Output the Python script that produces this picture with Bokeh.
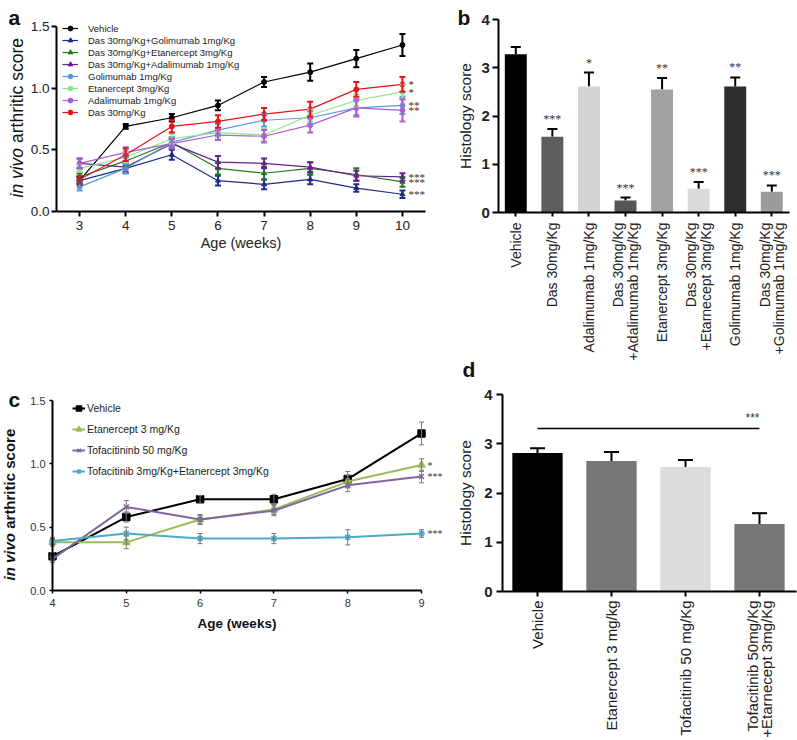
import math
from bokeh.plotting import figure
from bokeh.models import (Range1d, FixedTicker, Whisker, TeeHead, ColumnDataSource,
                          Legend, LegendItem, Label, LabelSet, PrintfTickFormatter)
from bokeh.layouts import column, row
from bokeh.embed import file_html
from bokeh.resources import INLINE

FONT = "Liberation Sans"

# ---------------- Panel a data ----------------
weeks_a = [3, 4, 5, 6, 7, 8, 9, 10]
a_names = ["Vehicle", "Das 30mg/Kg+Golimumab 1mg/Kg", "Das 30mg/Kg+Etanercept 3mg/Kg",
           "Das 30mg/Kg+Adalimumab 1mg/Kg", "Golimumab 1mg/Kg", "Etanercept 3mg/Kg",
           "Adalimumab 1mg/Kg", "Das 30mg/Kg"]
a_vehicle = [0.25, 0.69, 0.76, 0.86, 1.05, 1.13, 1.24, 1.35]
a_das_gol = [0.25, 0.35, 0.46, 0.25, 0.22, 0.26, 0.19, 0.14]
a_das_eta = [0.28, 0.41, 0.56, 0.35, 0.31, 0.35, 0.30, 0.24]
a_das_ada = [0.39, 0.36, 0.55, 0.40, 0.39, 0.36, 0.29, 0.28]
a_gol = [0.20, 0.35, 0.56, 0.66, 0.74, 0.76, 0.84, 0.86]
a_eta = [0.35, 0.44, 0.59, 0.64, 0.62, 0.78, 0.90, 0.97]
a_ada = [0.39, 0.48, 0.55, 0.62, 0.61, 0.70, 0.84, 0.82]
a_das = [0.26, 0.46, 0.69, 0.73, 0.79, 0.83, 0.99, 1.03]
a_err_vehicle = [0.03, 0.02, 0.03, 0.04, 0.04, 0.07, 0.07, 0.09]
a_err_das_gol = [0.03, 0.04, 0.04, 0.04, 0.04, 0.04, 0.03, 0.03]
a_err_das_eta = [0.03, 0.04, 0.04, 0.05, 0.05, 0.05, 0.05, 0.04]
a_err_das_ada = [0.04, 0.04, 0.04, 0.05, 0.04, 0.04, 0.04, 0.03]
a_err_gol = [0.03, 0.04, 0.04, 0.05, 0.05, 0.05, 0.06, 0.07]
a_err_eta = [0.03, 0.04, 0.04, 0.04, 0.05, 0.05, 0.05, 0.06]
a_err_ada = [0.04, 0.04, 0.04, 0.04, 0.05, 0.06, 0.07, 0.09]
a_err_das = [0.03, 0.05, 0.05, 0.05, 0.05, 0.06, 0.06, 0.06]
a_colors = ["#000000", "#1f2a8a", "#217a21", "#6b1f8f", "#5b9bd5", "#8fe38f", "#b35ad8", "#e8141a"]
a_markers = ["circle", "triangle", "triangle", "triangle", "circle", "circle", "circle", "circle"]
a_star_series = [7, 5, 4, 6, 3, 2, 1]
a_star_text = ["*", "*", "**", "**", "***", "***", "***"]
a_yticks = [0.0, 0.5, 1.0, 1.5]

# ---------------- Panel b data ----------------
b_labels = ["Vehicle", "Das 30mg/Kg", "Adalimumab 1mg/Kg", "Das 30mg/Kg\n+Adalimumab 1mg/Kg",
            "Etanercept 3mg/Kg", "Das 30mg/Kg\n+Etarnecept 3mg/Kg", "Golimumab 1mg/Kg",
            "Das 30mg/Kg\n+Golimumab 1mg/Kg"]
b_values = [3.28, 1.57, 2.61, 0.25, 2.55, 0.49, 2.61, 0.43]
b_err = [0.15, 0.16, 0.29, 0.06, 0.24, 0.14, 0.19, 0.13]
b_colors = ["#000000", "#5e5e5e", "#d3d3d3", "#555555", "#a2a2a2", "#dadada", "#2e2e2e", "#9c9c9c"]
b_stars = ["", "***", "*", "***", "**", "***", "**", "***"]
b_yticks = [0, 1, 2, 3, 4]

# ---------------- Panel c data ----------------
weeks_c = [4, 5, 6, 7, 8, 9]
c_names = ["Vehicle", "Etanercept 3 mg/Kg", "Tofacitininb 50 mg/Kg",
           "Tofacitinib 3mg/Kg+Etanercept 3mg/Kg"]
c_vehicle = [0.27, 0.58, 0.72, 0.72, 0.88, 1.24]
c_eta = [0.38, 0.38, 0.56, 0.64, 0.86, 0.99]
c_tofa = [0.25, 0.66, 0.56, 0.63, 0.83, 0.90]
c_combo = [0.39, 0.45, 0.41, 0.41, 0.42, 0.45]
c_err_vehicle = [0.03, 0.04, 0.03, 0.04, 0.06, 0.09]
c_err_eta = [0.03, 0.05, 0.03, 0.04, 0.05, 0.05]
c_err_tofa = [0.03, 0.05, 0.04, 0.04, 0.05, 0.05]
c_err_combo = [0.03, 0.05, 0.04, 0.04, 0.06, 0.03]
c_colors = ["#000000", "#9bbb59", "#8064a2", "#4bacc6"]
c_markers = ["square", "triangle", "x", "asterisk"]
c_star_series = [1, 2, 3]
c_star_text = ["*", "***", "***"]
c_yticks = [0.0, 0.5, 1.0, 1.5]

# ---------------- Panel d data ----------------
d_labels = ["Vehicle", "Etanercept 3 mg/kg", "Tofacitinib 50 mg/Kg",
            "Tofacitinib 50mg/Kg\n+Etarnecept 3mg/Kg"]
d_values = [2.81, 2.65, 2.53, 1.37]
d_err = [0.10, 0.18, 0.14, 0.22]
d_colors = ["#000000", "#777777", "#dcdcdc", "#777777"]
d_sig_x = [0, 3]
d_sig_y = 3.31
d_sig_text = "***"
d_yticks = [0, 1, 2, 3, 4]


def xrange_px(v1, p1, v2, p2, size):
    s = (p2 - p1) / (v2 - v1)
    return Range1d(v1 - p1 / s, v1 + (size - p1) / s)


def yrange_px(v1, p1, v2, p2, size):
    s = (p1 - p2) / (v2 - v1)
    return Range1d(v1 - (size - p1) / s, v1 + p1 / s)


def base_fig(width, height, x_range, y_range, y_axis_at, x_axis_at, xb, yb):
    p = figure(width=width, height=height, x_range=x_range, y_range=y_range,
               output_backend="svg", toolbar_location=None, min_border=0,
               min_border_left=0, min_border_right=0, min_border_top=0, min_border_bottom=0)
    p.title.visible = False
    p.xgrid.visible = False
    p.ygrid.visible = False
    p.outline_line_color = None
    p.yaxis.fixed_location = y_axis_at
    p.xaxis.fixed_location = x_axis_at
    p.xaxis.bounds = xb
    p.yaxis.bounds = yb
    for ax in (p.xaxis, p.yaxis):
        ax.axis_line_width = 2
        ax.axis_line_color = "black"
        ax.major_tick_line_color = "black"
        ax.major_tick_line_width = 2
        ax.major_tick_in = 0
        ax.minor_tick_line_color = None
        ax.major_label_text_font = FONT
        ax.axis_label_text_font = FONT
        ax.axis_label_text_font_style = "normal"
        ax.axis_label_text_color = "#222222"
        ax.major_label_text_color = "#222222"
    return p


def screen_text(p, x, y, txt, size, style="normal", angle=0.0, align="left", color="#111111"):
    p.add_layout(Label(x=x, y=y, x_units="screen", y_units="screen", text=txt, angle=angle,
                       text_font=FONT, text_font_size=size, text_font_style=style,
                       text_color=color, text_baseline="alphabetic", text_align=align))


# ================= Panel a =================
WA, HA = 440, 380
pa = base_fig(WA, HA, xrange_px(2.5, 56, 10.5, 425, WA), yrange_px(0, 211, 1.5, 26, HA),
              2.5, 0, (2.5, 10.5), (0, 1.5))
pa.xaxis.ticker = FixedTicker(ticks=weeks_a)
pa.yaxis.ticker = FixedTicker(ticks=a_yticks)
pa.yaxis.formatter = PrintfTickFormatter(format="%.1f")
pa.xaxis.major_label_text_font_size = "13.5px"
pa.yaxis.major_label_text_font_size = "13.5px"
pa.xaxis.major_tick_out = 5
pa.yaxis.major_tick_out = 5
pa.xaxis.major_label_standoff = 4
pa.yaxis.major_label_standoff = 2
pa.xaxis.axis_label = "Age (weeks)"
pa.xaxis.axis_label_text_font_size = "14.5px"
pa.xaxis.axis_label_standoff = 2

a_series = [a_vehicle, a_das_gol, a_das_eta, a_das_ada, a_gol, a_eta, a_ada, a_das]
a_errs = [a_err_vehicle, a_err_das_gol, a_err_das_eta, a_err_das_ada, a_err_gol, a_err_eta,
          a_err_ada, a_err_das]
a_items = []
for name, vals, errs, col, mk in zip(a_names, a_series, a_errs, a_colors, a_markers):
    src = ColumnDataSource(dict(x=weeks_a, y=vals,
                                lo=[v - e for v, e in zip(vals, errs)],
                                hi=[v + e for v, e in zip(vals, errs)]))
    pa.add_layout(Whisker(base="x", lower="lo", upper="hi", source=src, dimension="height",
                          line_color=col, line_width=2, level="glyph",
                          lower_head=TeeHead(size=6, line_color=col, line_width=2),
                          upper_head=TeeHead(size=6, line_color=col, line_width=2)))
    lr = pa.line("x", "y", source=src, line_color=col, line_width=1.2)
    sr = pa.scatter("x", "y", source=src, marker=mk, size=5, fill_color=col, line_color=col)
    a_items.append(LegendItem(label=name, renderers=[lr, sr]))

pa.add_layout(Legend(items=a_items, location=(62, HA - 118), label_text_font=FONT,
                     label_text_font_size="9.5px", label_text_color="#222222",
                     glyph_width=16, glyph_height=12, label_height=12, spacing=0, padding=0,
                     margin=0, label_standoff=10, border_line_alpha=0,
                     background_fill_alpha=0))

a_star_src = ColumnDataSource(dict(x=[weeks_a[-1]] * len(a_star_series),
                                   y=[a_series[i][-1] for i in a_star_series],
                                   t=a_star_text))
pa.add_layout(LabelSet(x="x", y="y", text="t", source=a_star_src, x_offset=6,
                       text_font=FONT, text_font_size="11px", text_color="#333333",
                       text_baseline="middle", text_align="left"))

screen_text(pa, 8, HA - 17, "a", "21px", "bold")
screen_text(pa, 16, HA - 197, "in vivo", "17.5px", "italic", math.pi / 2)
screen_text(pa, 16, HA - 197 + 54.5, "arthritic score", "17.5px", "normal", math.pi / 2)

# ================= Panel b =================
WB, HB = 357, 380
pb = base_fig(WB, HB, xrange_px(0, 75.3, 7, 331.3, WB), yrange_px(0, 212, 4, 19, HB),
              -0.465, 0, (-0.465, 7.49), (0, 4))
b_x = list(range(len(b_labels)))
b_src = ColumnDataSource(dict(x=b_x, top=b_values, color=b_colors,
                              hi=[v + e for v, e in zip(b_values, b_err)], star=b_stars))
pb.add_layout(Whisker(base="x", lower="top", upper="hi", source=b_src, dimension="height",
                      line_color="black", line_width=2, lower_head=None,
                      upper_head=TeeHead(size=10, line_color="black", line_width=2)))
pb.vbar(x="x", top="top", width=0.6, source=b_src, fill_color="color", line_color=None)
pb.xaxis.ticker = FixedTicker(ticks=b_x)
pb.xaxis.major_label_overrides = {i: lab for i, lab in zip(b_x, b_labels)}
pb.xaxis.major_label_orientation = math.pi / 2
pb.xaxis.major_label_text_font_size = "14px"
pb.xaxis.major_label_text_line_height = 0.9
pb.xaxis.major_tick_out = 4
pb.xaxis.major_label_standoff = 6
pb.yaxis.ticker = FixedTicker(ticks=b_yticks)
pb.yaxis.major_label_text_font_size = "15px"
pb.yaxis.major_label_text_font_style = "bold"
pb.yaxis.major_tick_out = 6
pb.yaxis.major_label_standoff = 3
pb.add_layout(LabelSet(x="x", y="hi", text="star", source=b_src, y_offset=3,
                       text_font=FONT, text_font_size="12px", text_color="#333333",
                       text_baseline="bottom", text_align="center"))
screen_text(pb, 17, HB - 17, "b", "21px", "bold")
screen_text(pb, 25, HB - 115.5, "Histology score", "15.5px", "normal", math.pi / 2, "center",
            "#222222")
screen_text(pb, 22, HB - 369, "d", "21px", "bold")

# ================= Panel c =================
WC, HC = 442, 360
pc = base_fig(WC, HC, xrange_px(4, 52, 9, 421, WC), yrange_px(0, 210, 1.5, 20, HC),
              4, 0, (4, 9), (0, 1.5))
pc.xaxis.ticker = FixedTicker(ticks=weeks_c)
pc.yaxis.ticker = FixedTicker(ticks=c_yticks)
pc.yaxis.formatter = PrintfTickFormatter(format="%.1f")
for ax in (pc.xaxis, pc.yaxis):
    ax.major_label_text_font_size = "11px"
    ax.major_label_text_color = "#333333"
    ax.major_tick_out = 3
    ax.major_tick_line_width = 1.5
pc.xaxis.major_label_standoff = 5
pc.yaxis.major_label_standoff = 4
pc.xaxis.axis_label = "Age (weeks)"
pc.xaxis.axis_label_text_font_size = "13.5px"
pc.xaxis.axis_label_text_font_style = "bold"
pc.xaxis.axis_label_text_color = "#111111"
pc.xaxis.axis_label_standoff = 6

c_series = [c_vehicle, c_eta, c_tofa, c_combo]
c_errs = [c_err_vehicle, c_err_eta, c_err_tofa, c_err_combo]
c_items = []
for name, vals, errs, col, mk in zip(c_names, c_series, c_errs, c_colors, c_markers):
    src = ColumnDataSource(dict(x=weeks_c, y=vals,
                                lo=[v - e for v, e in zip(vals, errs)],
                                hi=[v + e for v, e in zip(vals, errs)]))
    pc.add_layout(Whisker(base="x", lower="lo", upper="hi", source=src, dimension="height",
                          line_color="#777777", line_width=1, level="glyph",
                          lower_head=TeeHead(size=5, line_color="#777777", line_width=1),
                          upper_head=TeeHead(size=5, line_color="#777777", line_width=1)))
    lr = pc.line("x", "y", source=src, line_color=col, line_width=2)
    sr = pc.scatter("x", "y", source=src, marker=mk, size=7, fill_color=col, line_color=col,
                    line_width=1.5)
    c_items.append(LegendItem(label=name, renderers=[lr, sr]))

pc.add_layout(Legend(items=c_items, location=(72, HC - 101), label_text_font=FONT,
                     label_text_font_size="10.5px", label_text_color="#222222",
                     glyph_width=13, glyph_height=20, label_height=20, spacing=1, padding=0,
                     margin=0, label_standoff=2, border_line_alpha=0,
                     background_fill_alpha=0))

c_star_src = ColumnDataSource(dict(x=[weeks_c[-1]] * len(c_star_series),
                                   y=[c_series[i][-1] for i in c_star_series],
                                   t=c_star_text))
pc.add_layout(LabelSet(x="x", y="y", text="t", source=c_star_src, x_offset=6,
                       text_font=FONT, text_font_size="10px", text_color="#333333",
                       text_baseline="middle", text_align="left"))

screen_text(pc, 8, HC - 19, "c", "21px", "bold")
screen_text(pc, 9, HC - 200, "in vivo", "15px", "bold italic", math.pi / 2)
screen_text(pc, 9, HC - 200 + 51.7, "arthritic score", "15px", "bold", math.pi / 2)

# ================= Panel d =================
WD, HD = 355, 360
pd_ = base_fig(WD, HD, xrange_px(0, 95, 3, 317, WD), yrange_px(0, 211, 4, 14, HD),
               -0.473, 0, (-0.473, 3.5), (0, 4))
d_x = list(range(len(d_labels)))
d_src = ColumnDataSource(dict(x=d_x, top=d_values, color=d_colors,
                              hi=[v + e for v, e in zip(d_values, d_err)]))
pd_.add_layout(Whisker(base="x", lower="top", upper="hi", source=d_src, dimension="height",
                       line_color="black", line_width=2, lower_head=None,
                       upper_head=TeeHead(size=15, line_color="black", line_width=2)))
pd_.vbar(x="x", top="top", width=0.68, source=d_src, fill_color="color", line_color=None)
pd_.line(x=d_sig_x, y=[d_sig_y] * len(d_sig_x), line_color="black", line_width=1.5)
pd_.add_layout(Label(x=d_sig_x[-1], y=d_sig_y, text=d_sig_text, x_offset=-7, y_offset=3,
                     text_font=FONT, text_font_size="12px", text_color="#333333",
                     text_baseline="bottom", text_align="center"))
pd_.xaxis.ticker = FixedTicker(ticks=d_x)
pd_.xaxis.major_label_overrides = {i: lab for i, lab in zip(d_x, d_labels)}
pd_.xaxis.major_label_orientation = math.pi / 2
pd_.xaxis.major_label_text_font_size = "15px"
pd_.xaxis.major_label_text_line_height = 0.85
pd_.xaxis.major_tick_out = 5
pd_.xaxis.major_label_standoff = 4
pd_.yaxis.ticker = FixedTicker(ticks=d_yticks)
pd_.yaxis.major_label_text_font_size = "15px"
pd_.yaxis.major_label_text_font_style = "bold"
pd_.yaxis.major_tick_out = 6
pd_.yaxis.major_label_standoff = 4
screen_text(pd_, 23, HD - 112.5, "Histology score", "15.5px", "normal", math.pi / 2, "center",
            "#222222")

layout = column(row(pa, pb), row(pc, pd_))
open("out.html", "w").write(file_html(layout, INLINE))
